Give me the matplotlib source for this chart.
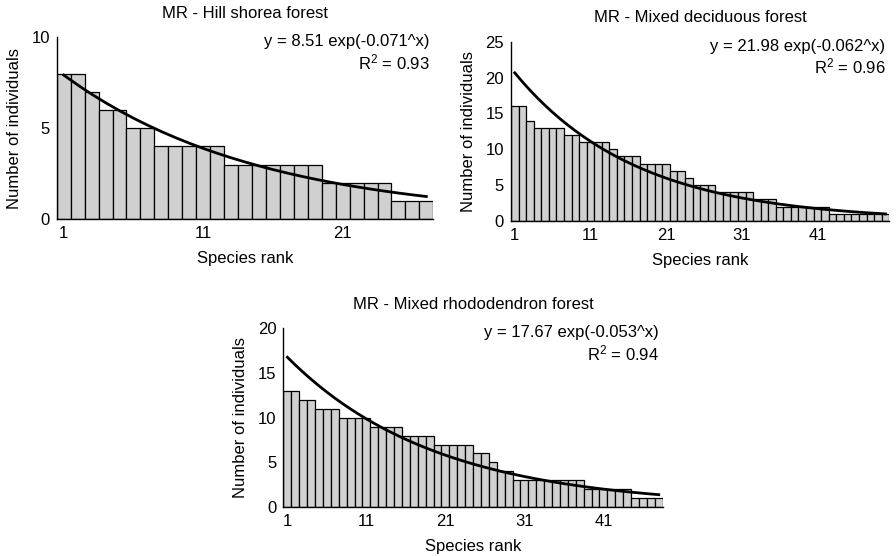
#!/usr/bin/env python3
"""
Rank-abundance plots for three forest types, with fitted exponential decay.
Writes: out.png
"""

import matplotlib

matplotlib.use("Agg")
import matplotlib.pyplot as plt
import numpy as np

plt.rcParams["font.family"] = ["Liberation Sans", "DejaVu Sans"]
plt.rcParams["font.size"] = 12
plt.rcParams["mathtext.fontset"] = "custom"
plt.rcParams["mathtext.rm"] = "Liberation Sans"
plt.rcParams["mathtext.it"] = "Liberation Sans"

# Number of individuals per species, ordered by rank
HILL_SHOREA = [8, 8, 7, 6, 6, 5, 5, 4, 4, 4, 4, 4, 3, 3, 3, 3, 3, 3, 3,
               2, 2, 2, 2, 2, 1, 1, 1]
MIXED_DECIDUOUS = [16, 16, 14, 13, 13, 13, 13, 12, 12, 11, 11, 11, 11, 10,
                   9, 9, 9, 8, 8, 8, 8, 7, 7, 6, 5, 5, 5, 4, 4, 4, 4, 4,
                   3, 3, 3, 2, 2, 2, 2, 2, 2, 2, 1, 1, 1, 1, 1, 1, 1, 1]
MIXED_RHODO = [13, 13, 12, 12, 11, 11, 11, 10, 10, 10, 10, 9, 9, 9, 9,
               8, 8, 8, 8, 7, 7, 7, 7, 7, 6, 6, 5, 4, 4, 3, 3, 3, 3, 3,
               3, 3, 3, 3, 2, 2, 2, 2, 2, 2, 1, 1, 1, 1]

TITLES = ["MR - Hill shorea forest", "MR - Mixed deciduous forest",
          "MR - Mixed rhododendron forest"]
FIT_A = [8.51, 21.98, 17.67]
FIT_B = [0.071, 0.062, 0.053]
FIT_R2 = [0.93, 0.96, 0.94]
Y_MAX = [10, 25, 20]
X_TICKS = [1, 11, 21, 31, 41]

# axes boxes in figure fractions (left, bottom, width, height)
BOXES = [
    (0.0633, 0.6056, 0.4203, 0.3273),
    (0.5703, 0.6025, 0.4222, 0.3225),
    (0.3164, 0.0880, 0.4232, 0.3215),
]


def panel(ax, counts, title, a, b, r2, ymax):
    counts = np.asarray(counts)
    ranks = np.arange(1, len(counts) + 1)
    ax.bar(ranks, counts, width=1.0, color="#d0d0d0", edgecolor="black",
           linewidth=0.9, zorder=2)
    fit = a * np.exp(-b * ranks)
    ax.plot(ranks, fit, color="black", linewidth=2.0, zorder=3)

    ax.set_xlim(0.5, len(counts) + 0.5)
    ax.set_ylim(0, ymax)
    ax.set_yticks(np.arange(0, ymax + 1, 5))
    ax.set_xticks([t for t in X_TICKS if t <= len(counts)])
    ax.tick_params(axis="both", length=0, pad=5)

    for side in ["top", "right"]:
        ax.spines[side].set_visible(False)
    ax.spines["left"].set_linewidth(1.0)
    ax.spines["bottom"].set_linewidth(1.0)

    ax.set_title(title, fontsize=12, pad=14)
    ax.set_xlabel("Species rank", labelpad=7)
    ax.set_ylabel("Number of individuals", labelpad=7)

    ax.text(0.99, 0.975, f"y = {a:.2f} exp(-{b:.3f}^x)", transform=ax.transAxes,
            ha="right", va="center")
    ax.text(0.99, 0.86, rf"R$^{{2}}$ = {r2:.2f}", transform=ax.transAxes,
            ha="right", va="center")


def main():
    fig = plt.figure(figsize=(8.96, 5.56), dpi=100)
    data = [HILL_SHOREA, MIXED_DECIDUOUS, MIXED_RHODO]
    for i, counts in enumerate(data):
        ax = fig.add_axes(BOXES[i])
        panel(ax, counts, TITLES[i], FIT_A[i], FIT_B[i], FIT_R2[i], Y_MAX[i])
    fig.savefig("out.png", dpi=100)
    plt.close(fig)


if __name__ == "__main__":
    main()
